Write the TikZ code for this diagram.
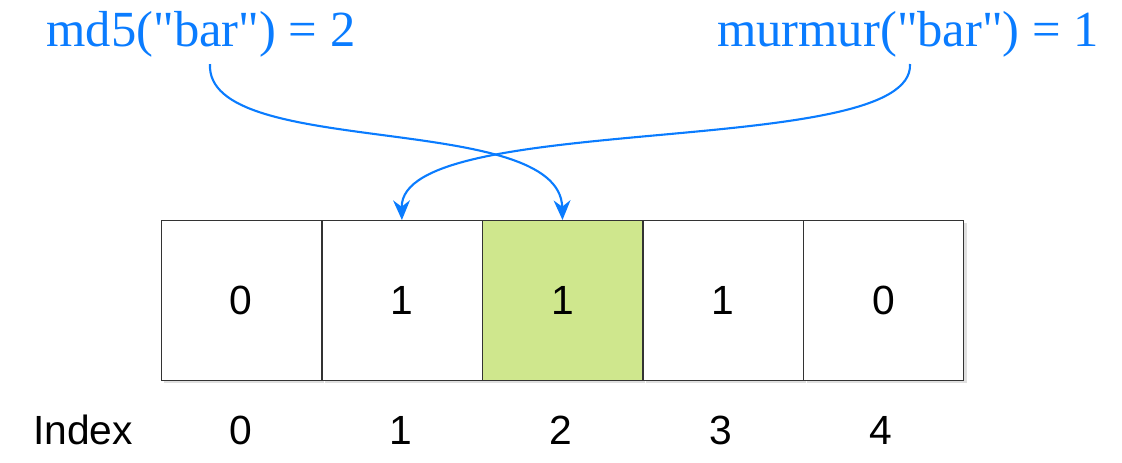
\documentclass[tikz,border=0pt]{standalone}
\usepackage{fontspec}
\setmainfont{Liberation Serif}
\newfontfamily\cellfont{Liberation Sans}
\usetikzlibrary{positioning,arrows.meta,shadows}
\definecolor{hashblue}{HTML}{0A7CFF}
\definecolor{bitgreen}{HTML}{CFE78D}
\begin{document}
\begin{tikzpicture}[%
    x=0.025cm,
    y=-0.025cm,
    bit/.style={draw=black!80, fill=white, minimum size=4cm, inner sep=0pt, font=\cellfont\fontsize{29}{29}\selectfont,
      drop shadow={shadow xshift=2pt, shadow yshift=-2pt, fill=black!25}},
    idx/.style={font=\cellfont\fontsize{29}{29}\selectfont},
    hash/.style={text=hashblue, font=\fontsize{36}{36}\selectfont},
    hasharrow/.style={draw=hashblue, line width=1.5pt, -{Stealth[length=14pt,width=12pt]}}
  ]
  \useasboundingbox (0,0) rectangle (1122,462);

  % bit array
  \node[bit, anchor=north west] (b0) at (161,220) {0};
  \node[bit, right=0pt of b0] (b1) {1};
  \node[bit, right=0pt of b1, fill=bitgreen] (b2) {1};
  \node[bit, right=0pt of b2] (b3) {1};
  \node[bit, right=0pt of b3] (b4) {0};

  % indices
  \node[idx] (i0) at (241,430) {0};
  \node[idx] (i1) at (401,430) {1};
  \node[idx] (i2) at (561,430) {2};
  \node[idx] (i3) at (721,430) {3};
  \node[idx] (i4) at (881,430) {4};
  \node[idx] (index) at (83,430) {Index};

  % hash functions
  \node[hash] (md5) at (201,34) {md5(\textquotedbl bar\textquotedbl) = 2};
  \node[hash] (murmur) at (908,34) {murmur(\textquotedbl bar\textquotedbl) = 1};
  \coordinate (md5s) at (210,64);
  \coordinate (murs) at (910,64);

  \draw[hasharrow] (md5s) .. controls (205,160) and (560,110) .. (b2.north);
  \draw[hasharrow] (murs) .. controls (915,160) and (400,110) .. (b1.north);
\end{tikzpicture}
\end{document}
